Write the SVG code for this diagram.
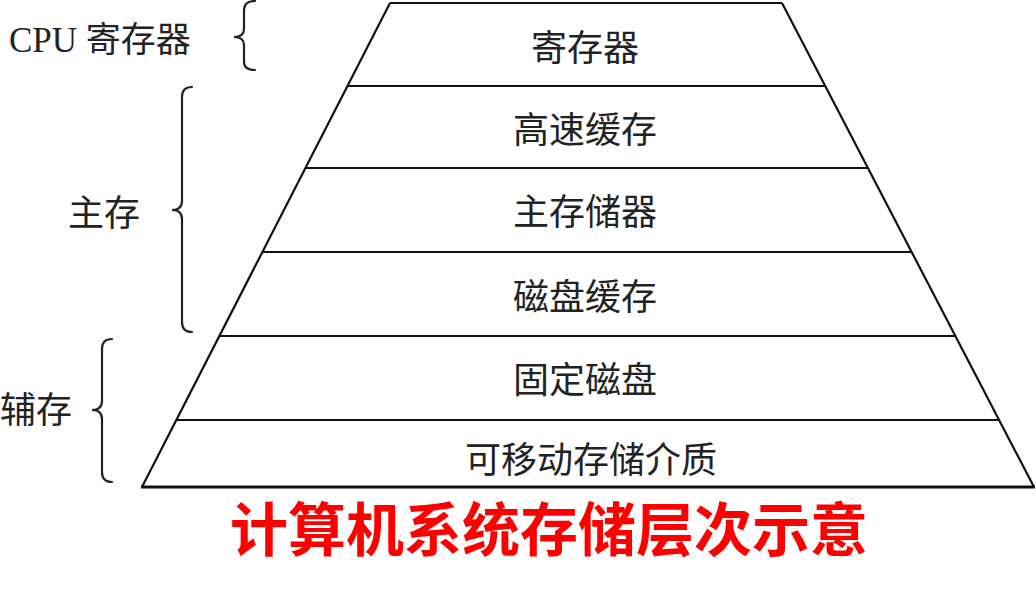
<svg xmlns="http://www.w3.org/2000/svg" width="1036" height="596" viewBox="0 0 1036 596">
<style>
.ln{stroke:#111;stroke-width:2.2;fill:none}
.br{stroke:#222;stroke-width:2.2;fill:none;stroke-linecap:round}
.t{font-family:"Noto Sans CJK SC",sans-serif;font-size:36px;fill:#222;text-anchor:middle}
.lbl{font-family:"Noto Sans CJK SC",sans-serif;font-size:36px;fill:#222}
.title{font-family:"Noto Sans CJK SC",sans-serif;font-size:58px;font-weight:bold;fill:#ff0000;text-anchor:middle}
</style>
<rect width="1036" height="596" fill="#fff"/>
<g id="connectors">
<path class="ln" d="M390,3 L782,3 M390,3 L142,487 M782,3 L1034,487"/>
<line class="ln" x1="347" y1="86" x2="825" y2="86"/>
<line class="ln" x1="305" y1="168" x2="868" y2="168"/>
<line class="ln" x1="262" y1="252" x2="912" y2="252"/>
<line class="ln" x1="219" y1="336" x2="956" y2="336"/>
<line class="ln" x1="176" y1="420" x2="1000" y2="420"/>
<line x1="141" y1="487" x2="1035" y2="487" stroke="#111" stroke-width="3.2"/>
</g>
<g id="layer-register"><text class="t" x="585" y="61">寄存器</text></g>
<g id="layer-cache"><text class="t" x="585" y="143">高速缓存</text></g>
<g id="layer-main"><text class="t" x="585" y="225">主存储器</text></g>
<g id="layer-diskcache"><text class="t" x="585" y="310">磁盘缓存</text></g>
<g id="layer-fixeddisk"><text class="t" x="585" y="393">固定磁盘</text></g>
<g id="layer-removable"><text class="t" x="591" y="473">可移动存储介质</text></g>
<g id="label-cpu">
<text class="lbl" x="9" y="52"><tspan font-family="Liberation Serif,serif" font-size="35">CPU </tspan><tspan font-size="35">寄存器</tspan></text>
<path class="br" d="M255,1 Q244,1 244,10 L244,29 Q244,37 234,37 Q244,37 244,45 L244,62 Q244,70 255,70"/>
</g>
<g id="label-main">
<text class="lbl" x="68" y="226">主存</text>
<path class="br" d="M192,87 Q182,87 182,97 L182,201 Q182,210 172,210 Q182,210 182,219 L182,322 Q182,332 192,332"/>
</g>
<g id="label-aux">
<text class="lbl" x="0" y="423">辅存</text>
<path class="br" d="M112,339 Q102,339 102,349 L102,401 Q102,410 92,410 Q102,410 102,419 L102,472 Q102,482 112,482"/>
</g>
<g id="title"><text class="title" x="549" y="551">计算机系统存储层次示意</text></g>
</svg>
